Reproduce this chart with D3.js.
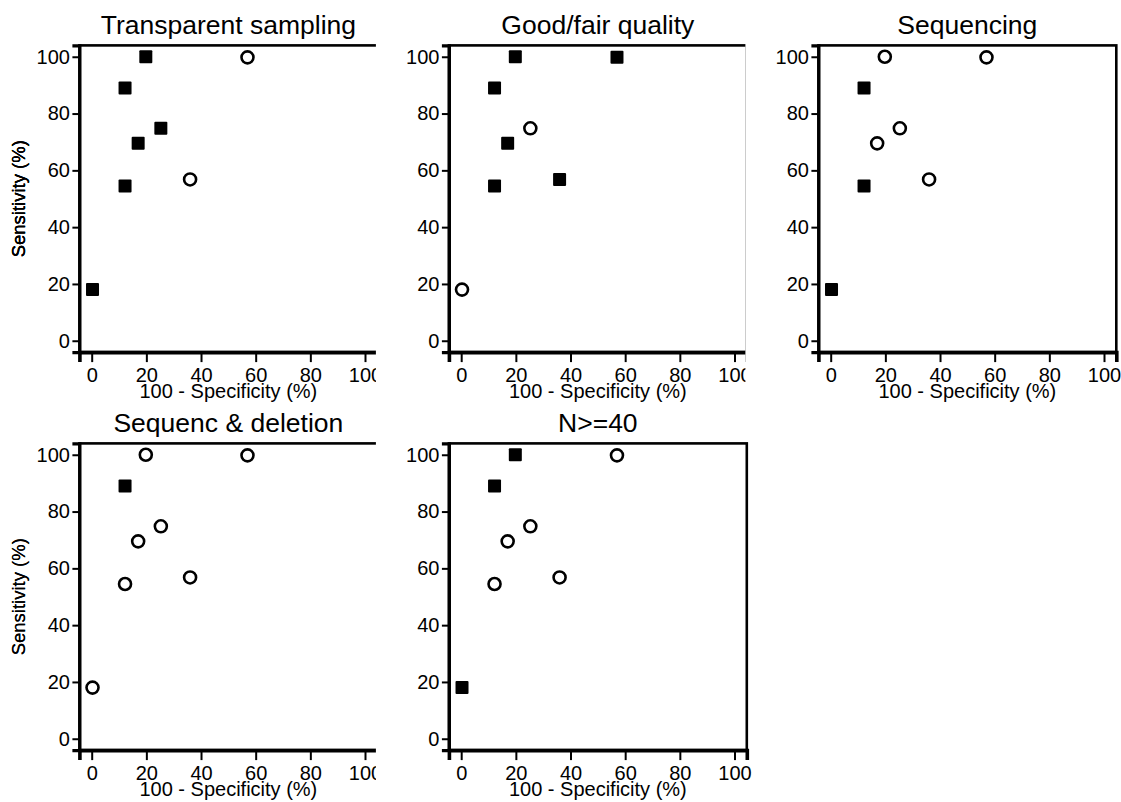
<!DOCTYPE html>
<html lang="en">
<head>
    <meta charset="UTF-8">
    <title>Sensitivity vs 100 - Specificity</title>
    <script src="https://cdn.jsdelivr.net/npm/d3@7/dist/d3.min.js"></script>
    <style>
        body { margin: 0; background: #fff; }
        svg { display: block; }
    </style>
</head>
<body>
<svg></svg>

<script language="JavaScript">
    // study points (x = 100 - specificity, y = sensitivity)
    const studyFpr = [0.3, 12.2, 12.2, 17, 19.8, 25.3, 36, 57];
    const studySens = [18, 54.5, 89, 69.5, 100, 74.8, 56.8, 99.8];

    const panelTitles = ["Transparent sampling", "Good/fair quality", "Sequencing",
        "Sequenc & deletion", "N>=40"];

    // 1 = filled square, 0 = hollow circle, one row per panel
    const panelFilled = [
        [1, 1, 1, 1, 1, 1, 0, 0],
        [0, 1, 1, 1, 1, 0, 1, 1],
        [1, 1, 1, 0, 0, 0, 0, 0],
        [0, 0, 1, 0, 0, 0, 0, 0],
        [1, 0, 1, 0, 1, 0, 0, 0]
    ];

    const tickValues = [0, 20, 40, 60, 80, 100];
    const xTitle = "100 - Specificity (%)";
    const yTitle = "Sensitivity (%)";

    const width = 1121, height = 802;
    const plotW = 297.9, plotH = 306.7;
    const colStep = 369.5, rowStep = 398;
    const font = "'Liberation Sans', Arial, sans-serif";

    const svg = d3.select("svg")
        .attr("width", width)
        .attr("height", height)
        .style("font-family", font);

    svg.append("rect").attr("width", width).attr("height", height).attr("fill", "#fff");

    panelTitles.forEach((title, i) => {
        const col = i % 3, row = Math.floor(i / 3);
        const left = 79.4 + col * colStep,
            top = 45.4 + row * rowStep;

        const x = d3.scaleLinear().domain([-4.5, 104.5]).range([left, left + plotW]);
        const y = d3.scaleLinear().domain([-4, 104]).range([top + plotH, top]);

        const g = svg.append("g");

        // white cell background hides the previous panel's right edge
        g.append("rect")
            .attr("x", left - 73)
            .attr("y", top - 35)
            .attr("width", width - (left - 73))
            .attr("height", 400)
            .attr("fill", "#fff");

        g.append("text")
            .attr("x", left + plotW / 2)
            .attr("y", top - 11.5)
            .attr("text-anchor", "middle")
            .style("font-size", "26.5px")
            .text(title);

        // frame
        g.append("rect")
            .attr("x", left)
            .attr("y", top)
            .attr("width", plotW)
            .attr("height", plotH)
            .attr("fill", "none")
            .attr("stroke", "#000")
            .attr("stroke-width", 2.6);

        const yAxis = g.append("g")
            .attr("transform", `translate(${left},0)`)
            .call(d3.axisLeft(y).tickValues(tickValues).tickSize(7).tickPadding(2.5));

        const xAxis = g.append("g")
            .attr("transform", `translate(0,${top + plotH})`)
            .call(d3.axisBottom(x).tickValues(tickValues).tickSize(10).tickPadding(4.5));

        [xAxis, yAxis].forEach(ax => {
            ax.select(".domain").attr("stroke-width", 3.6);
            ax.selectAll(".tick line").attr("stroke-width", 2);
            ax.selectAll(".tick text")
                .attr("fill", "#000")
                .style("font-family", font)
                .style("font-size", "20px");
        });
        xAxis.selectAll(".tick text").attr("dy", "0.75em");
        yAxis.select(".domain").attr("stroke-width", 3.2);

        g.append("text")
            .attr("x", left + plotW / 2)
            .attr("y", top + plotH + 46)
            .attr("text-anchor", "middle")
            .style("font-size", "20px")
            .text(xTitle);

        g.append("text")
            .attr("transform", `translate(25,${top + plotH / 2}) rotate(-90)`)
            .attr("text-anchor", "middle")
            .style("font-size", "18.5px")
            .text(yTitle);

        const pts = studyFpr.map((fx, k) => ({fx, sens: studySens[k], filled: panelFilled[i][k]}));

        g.append("g")
            .selectAll("rect")
            .data(pts.filter(d => d.filled))
            .join("rect")
            .attr("x", d => x(d.fx) - 6.5)
            .attr("y", d => y(d.sens) - 6.5)
            .attr("width", 13)
            .attr("height", 13)
            .attr("rx", 1)
            .attr("fill", "#000");

        g.append("g")
            .selectAll("circle")
            .data(pts.filter(d => !d.filled))
            .join("circle")
            .attr("cx", d => x(d.fx))
            .attr("cy", d => y(d.sens))
            .attr("r", 6)
            .attr("fill", "#fff")
            .attr("stroke", "#000")
            .attr("stroke-width", 2.6);
    });
</script>
</body>
</html>
